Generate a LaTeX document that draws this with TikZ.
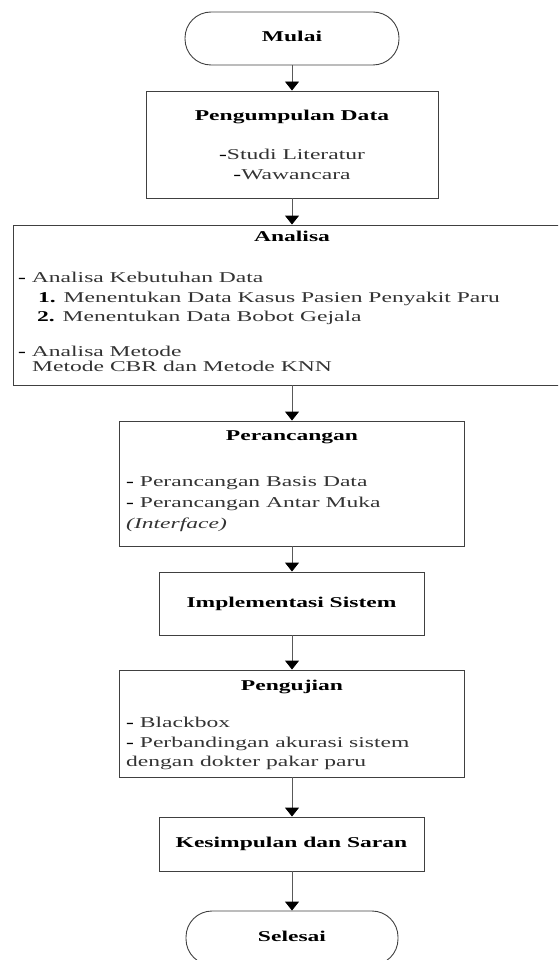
\documentclass[tikz,border=0pt]{standalone}
\usepackage{fontspec}
\setmainfont{Liberation Serif}[FakeStretch=1.57]
\usetikzlibrary{arrows.meta}
\begin{document}
\begin{tikzpicture}[x=1pt,y=-1pt,
  box/.style={draw=black!75, line width=0.9pt, inner sep=0pt, font=\fontsize{15}{15}\selectfont\bfseries, text height=10pt, text depth=3pt},
  term/.style={box, rounded corners=26pt},
  ttl/.style={font=\fontsize{15}{15}\selectfont\bfseries, text=black, inner sep=0pt, text height=10pt, text depth=3pt},
  txt/.style={font=\fontsize{15}{15}\selectfont, text=black!80, inner sep=0pt, anchor=west, text height=10pt, text depth=3pt},
  arr/.style={draw=black!65, line width=0.9pt, -{Triangle[width=14pt,length=9pt,color=black]}}
]
\useasboundingbox (0,0) rectangle (558,960);
\clip (0,0) rectangle (558,960);

% boxes
\node[term, minimum width=214pt, minimum height=53pt] (mulai) at (292,38.5) {Mulai};
\node[box, minimum width=292pt, minimum height=107pt] (pd) at (292,144.5) {};
\node[box, minimum width=562pt, minimum height=160pt] (an) at (294,305) {};
\node[box, minimum width=345pt, minimum height=125pt] (pr) at (291.5,483.5) {};
\node[box, minimum width=265pt, minimum height=63pt] (im) at (291.5,603.5) {Implementasi Sistem};
\node[box, minimum width=345pt, minimum height=107pt] (pj) at (291.5,723.5) {};
\node[box, minimum width=265pt, minimum height=54pt] (ks) at (291.5,844) {Kesimpulan dan Saran};
\node[term, minimum width=212pt, minimum height=54pt] (sl) at (292,938) {Selesai};

% Pengumpulan Data
\node[ttl] (pdt) at (292,117) {Pengumpulan Data};
\node[txt, anchor=center] (pd1) at (292,156) {{\color{black}\bfseries -}Studi Literatur};
\node[txt, anchor=center] (pd2) at (292,176) {{\color{black}\bfseries -}Wawancara};

% Analisa
\node[ttl] (ant) at (292,238) {Analisa};
\node[txt] (an1) at (18,279) {{\color{black}\bfseries -} Analisa Kebutuhan Data};
\node[txt] (an2) at (38,299) {{\color{black}\bfseries 1.} Menentukan Data Kasus Pasien Penyakit Paru};
\node[txt] (an3) at (37,318) {{\color{black}\bfseries 2.} Menentukan Data Bobot Gejala};
\node[txt] (an4) at (18,353) {{\color{black}\bfseries -} Analisa Metode};
\node[txt] (an5) at (32,368) {Metode CBR dan Metode KNN};

% Perancangan
\node[ttl] (prt) at (292,437) {Perancangan};
\node[txt] (pr1) at (126,483) {{\color{black}\bfseries -} Perancangan Basis Data};
\node[txt] (pr2) at (126,504) {{\color{black}\bfseries -} Perancangan Antar Muka};
\node[txt] (pr3) at (126,525) {\itshape (Interface)};

% Pengujian
\node[ttl] (pjt) at (292,687) {Pengujian};
\node[txt] (pj1) at (126,724) {{\color{black}\bfseries -} Blackbox};
\node[txt] (pj2) at (126,744) {{\color{black}\bfseries -} Perbandingan akurasi sistem};
\node[txt] (pj3) at (126,763) {dengan dokter pakar paru};

% connectors
\draw[arr] (mulai.south) -- (mulai.south |- pd.north);
\draw[arr] (pd.south) -- (pd.south |- an.north);
\draw[arr] (pd.south |- an.south) -- (pd.south |- pr.north);
\draw[arr] (pd.south |- pr.south) -- (pd.south |- im.north);
\draw[arr] (pd.south |- im.south) -- (pd.south |- pj.north);
\draw[arr] (pd.south |- pj.south) -- (pd.south |- ks.north);
\draw[arr] (pd.south |- ks.south) -- (sl.north);
\end{tikzpicture}
\end{document}
